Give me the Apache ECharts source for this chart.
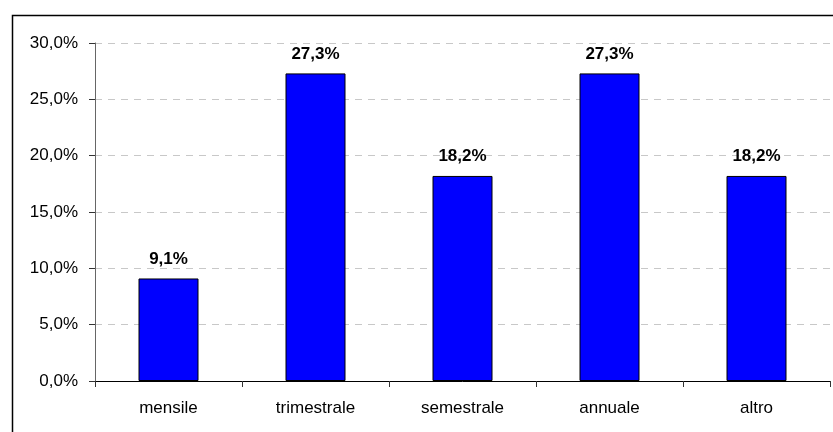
<!DOCTYPE html>
<html><head><meta charset="utf-8">
<script src="https://cdn.jsdelivr.net/npm/echarts@6/dist/echarts.min.js"></script>
<style>html,body{margin:0;padding:0;background:#fff}#c{width:833px;height:432px}</style>
</head><body><div id="c"></div>
<script>
const categories = ['mensile', 'trimestrale', 'semestrale', 'annuale', 'altro'];
const values = [9.1, 27.3, 18.2, 27.3, 18.2];
const yTicks = [0, 5, 10, 15, 20, 25, 30];

const fmt = v => v.toFixed(1).replace('.', ',') + '%';
const FONT = 'Liberation Sans, Arial, sans-serif';
const chart = echarts.init(document.getElementById('c'), null, {renderer: 'canvas'});
chart.setOption({
  animation: false,
  backgroundColor: '#fff',
  graphic: [{
    type: 'rect', left: 10, top: 13, z: 100,
    shape: {width: 840, height: 440},
    style: {fill: 'none', stroke: '#000', lineWidth: 1.5}
  }],
  grid: {left: 95, right: 3, top: 43, bottom: 51},
  xAxis: {
    type: 'category', data: categories,
    axisLine: {lineStyle: {color: '#000', width: 1}},
    axisTick: {show: true, length: 6, lineStyle: {color: '#333'}},
    axisLabel: {color: '#000', fontFamily: FONT, fontSize: 17, margin: 19}
  },
  yAxis: {
    type: 'value', min: yTicks[0], max: yTicks[yTicks.length - 1], interval: 5,
    axisLine: {show: true, lineStyle: {color: '#666', width: 1}},
    axisTick: {show: true, length: 6, lineStyle: {color: '#333'}},
    axisLabel: {color: '#000', fontFamily: FONT, fontSize: 17, margin: 17, formatter: fmt},
    splitLine: {show: true, lineStyle: {color: '#c8c8c8', type: [7, 6], width: 1}}
  },
  series: [{
    type: 'bar', data: values, barWidth: 60,
    itemStyle: {color: '#0000FF', borderColor: '#000', borderWidth: 1},
    label: {show: true, position: 'top', distance: 11, formatter: p => fmt(p.value),
      color: '#000', fontWeight: 'bold', fontFamily: FONT, fontSize: 17}
  }]
});
</script></body></html>
